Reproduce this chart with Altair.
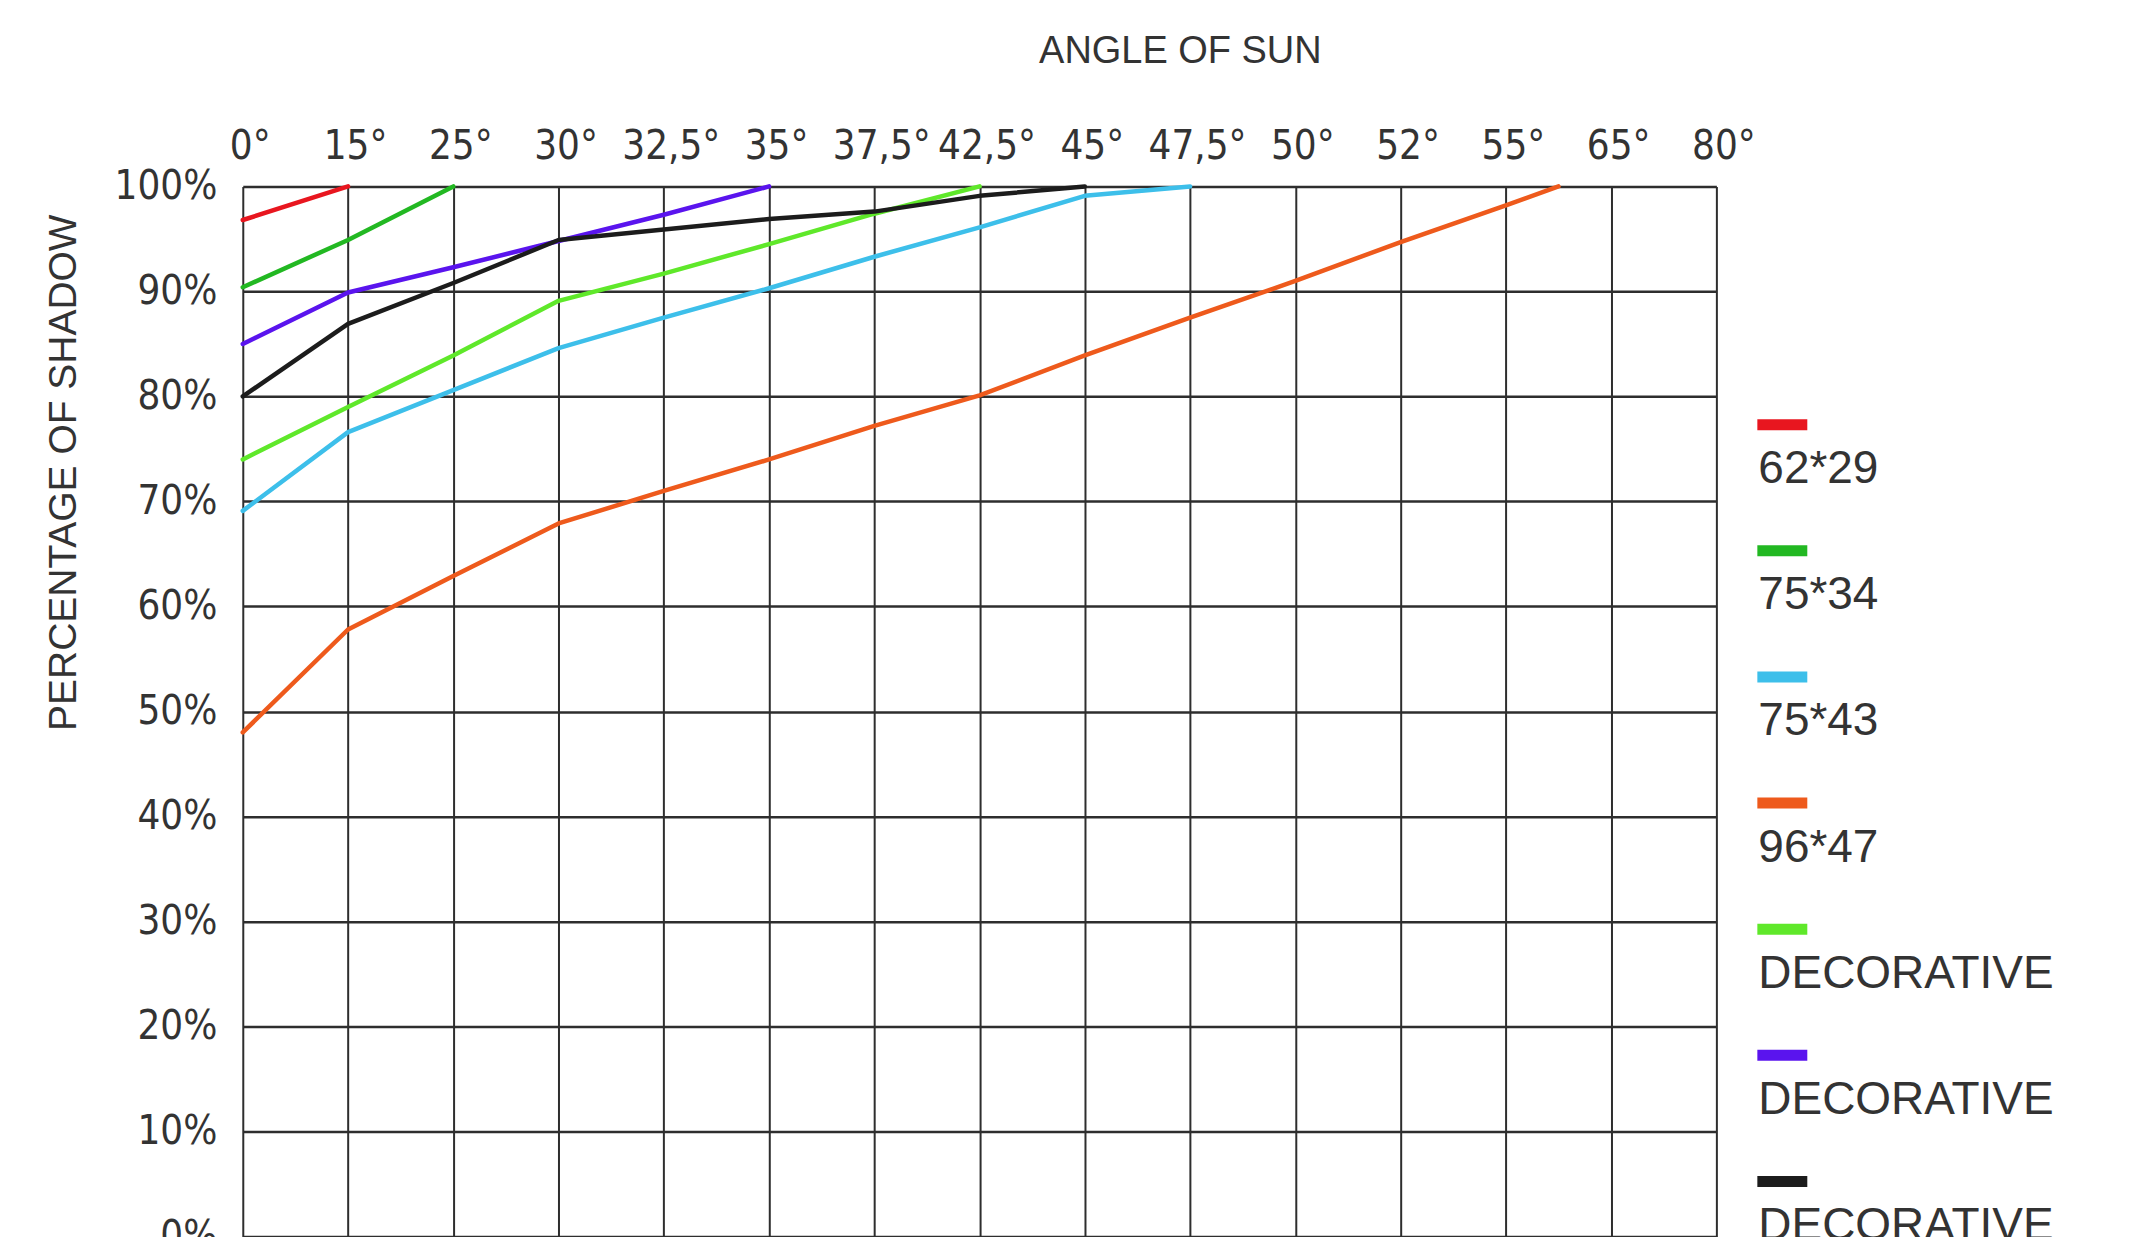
import json
import altair as alt
import pandas as pd

# ---- data ----
categories = ["0°", "15°", "25°", "30°", "32,5°", "35°", "37,5°", "42,5°",
              "45°", "47,5°", "50°", "52°", "55°", "65°", "80°"]

series_ids = ["62*29", "75*34", "75*43", "96*47", "DECO_A", "DECO_B", "DECO_C"]
series_labels = ["62*29", "75*34", "75*43", "96*47", "DECORATIVE", "DECORATIVE", "DECORATIVE"]
series_colors = ["#e8161f", "#22b822", "#3dbfea", "#ee5a1c", "#5fe82a", "#5a14ee", "#1c1c1c"]

# positions along the category axis (index of the category) and percentages
pos_62_29 = [0, 1]
val_62_29 = [96.8, 100]

pos_75_34 = [0, 1, 2]
val_75_34 = [90.4, 94.9, 100]

pos_75_43 = [0, 1, 2, 3, 4, 5, 6, 7, 8, 9]
val_75_43 = [69.1, 76.6, 80.6, 84.6, 87.5, 90.3, 93.3, 96.1, 99.1, 100]

pos_96_47 = [0, 1, 2, 3, 4, 5, 6, 7, 8, 9, 10, 11, 12, 12.5]
val_96_47 = [48.0, 57.8, 62.9, 67.9, 71.0, 74.0, 77.2, 80.1, 83.9, 87.5, 91.0, 94.7, 98.2, 100]

pos_deco_a = [0, 1, 2, 3, 4, 5, 6, 7]
val_deco_a = [74.0, 79.0, 83.9, 89.1, 91.7, 94.5, 97.4, 100]

pos_deco_b = [0, 1, 2, 3, 4, 5]
val_deco_b = [85.0, 89.9, 92.3, 94.8, 97.3, 100]

pos_deco_c = [0, 1, 2, 3, 4, 5, 6, 7, 8]
val_deco_c = [80.0, 86.9, 90.8, 94.9, 95.9, 96.9, 97.6, 99.1, 100]

y_ticks = [0, 10, 20, 30, 40, 50, 60, 70, 80, 90, 100]

# ---- build tables ----
all_pos = [pos_62_29, pos_75_34, pos_75_43, pos_96_47, pos_deco_a, pos_deco_b, pos_deco_c]
all_val = [val_62_29, val_75_34, val_75_43, val_96_47, val_deco_a, val_deco_b, val_deco_c]
rows = []
for order, (sid, ps, vs) in enumerate(zip(series_ids, all_pos, all_val)):
    for p, v in zip(ps, vs):
        rows.append({"id": sid, "order": order, "pos": p, "value": v})
df = pd.DataFrame(rows)

legend_df = pd.DataFrame({
    "id": series_ids,
    "label": series_labels,
    "rank": list(range(len(series_ids))),
})

LABEL_FONT = "Liberation Sans Narrow, DejaVu Sans Condensed, Liberation Sans, sans-serif"
TITLE_FONT = "Liberation Sans, Arial, sans-serif"
INK = "#333333"
GRID = "#2e2e2e"

color_scale = alt.Scale(domain=series_ids, range=series_colors)

x_label_expr = json.dumps(categories, ensure_ascii=False) + "[datum.value]"

lines = alt.Chart(df).mark_line(strokeWidth=4.5, strokeCap="round", strokeJoin="round").encode(
    x=alt.X(
        "pos:Q",
        scale=alt.Scale(domain=[0, len(categories) - 1], nice=False, zero=False),
        axis=alt.Axis(
            orient="top",
            values=list(range(len(categories))),
            labelExpr=x_label_expr,
            title="ANGLE OF SUN",
            titleX=938,
            titleY=-124,
            titleAlign="center",
            titleBaseline="alphabetic",
            titleAngle=0,
            titleFont=TITLE_FONT,
            titleFontSize=38,
            titleFontWeight="normal",
            titleColor=INK,
            labelFont=LABEL_FONT,
            labelFontSize=40,
            labelColor=INK,
            labelBaseline="alphabetic",
            labelPadding=28,
            labelOffset=7,
            labelOverlap=False,
            labelFlush=False,
            ticks=False,
            tickSize=0,
            domain=False,
            grid=True,
            gridColor=GRID,
            gridWidth=2,
            gridOpacity=1,
        ),
    ),
    y=alt.Y(
        "value:Q",
        scale=alt.Scale(domain=[0, 100], nice=False),
        axis=alt.Axis(
            orient="left",
            values=y_ticks,
            labelExpr="datum.value + '%'",
            title="PERCENTAGE OF SHADOW",
            titleX=-179,
            titleY=286,
            titleAngle=270,
            titleAlign="center",
            titleBaseline="middle",
            titleFont=TITLE_FONT,
            titleFontSize=39,
            titleFontWeight="normal",
            titleColor=INK,
            labelFont=LABEL_FONT,
            labelFontSize=40,
            labelColor=INK,
            labelAlign="right",
            labelBaseline="middle",
            labelPadding=26,
            labelOverlap=False,
            labelFlush=False,
            ticks=False,
            tickSize=0,
            domain=False,
            grid=True,
            gridColor=GRID,
            gridWidth=2.5,
            gridOpacity=1,
        ),
    ),
    color=alt.Color("id:N", scale=color_scale, legend=None),
    detail="id:N",
    order=alt.Order("pos:Q"),
)

legend_y = alt.Y(
    "rank:O",
    scale=alt.Scale(type="point", domain=list(range(len(series_ids))), range=[238.5, 996], padding=0),
    axis=None,
)

legend_bars = alt.Chart(legend_df).mark_rule(strokeWidth=11).encode(
    x=alt.value(1516),
    x2=alt.value(1566),
    y=legend_y,
    color=alt.Color("id:N", scale=color_scale, legend=None),
)

legend_text = alt.Chart(legend_df).mark_text(
    align="left", baseline="alphabetic", dy=58.5,
    font=TITLE_FONT, fontSize=46, color=INK,
).encode(
    x=alt.value(1517),
    y=legend_y,
    text="label:N",
)

chart = alt.layer(lines, legend_bars, legend_text).resolve_scale(
    y="independent"
).properties(
    width=1475,
    height=1051,
    padding={"left": 235, "top": 178, "right": 405, "bottom": 0},
    autosize=alt.AutoSizeParams(type="none"),
    background="white",
).configure_view(strokeWidth=0)

chart.save("out.html", embed_options={"renderer": "svg", "actions": False})
